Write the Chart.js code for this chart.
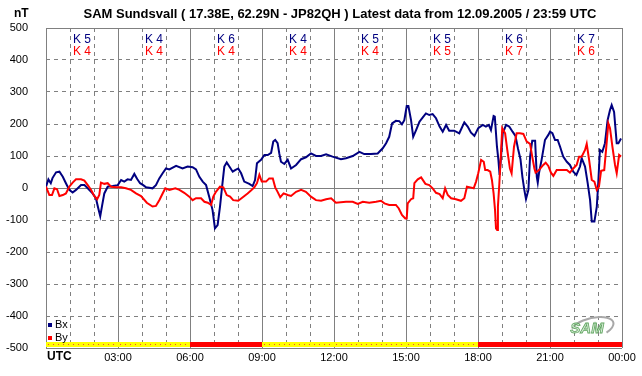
<!DOCTYPE html>
<html>
<head>
<meta charset="utf-8">
<script src="https://cdn.jsdelivr.net/npm/chart.js@4.4.0/dist/chart.umd.min.js"></script>
<style>
  body { margin: 0; background: #fff; }
</style>
</head>
<body>
<canvas id="magChart" width="642" height="376"></canvas>
<script>
// --- Data (hours UTC, nT) ---
const bxHours = [0, 0.1, 0.2, 0.27, 0.42, 0.56, 0.7, 0.83, 0.97, 1.11, 1.25, 1.46, 1.6, 1.74, 1.94, 2.08, 2.18, 2.26, 2.33, 2.43,
  2.57, 2.78, 2.99, 3.13, 3.26, 3.4, 3.54, 3.68, 3.8, 3.92, 4.05, 4.17, 4.44, 4.58, 4.72, 4.86, 5.0, 5.14, 5.42, 5.69,
  5.9, 6.11, 6.25, 6.39, 6.53, 6.67, 6.8, 6.94, 7.04, 7.15, 7.25, 7.33, 7.43, 7.53, 7.64, 7.78, 7.88, 8.01, 8.13, 8.26,
  8.47, 8.61, 8.71, 8.79, 8.96, 9.1, 9.24, 9.38, 9.47, 9.55, 9.65, 9.72, 9.79, 9.93, 10.07, 10.21, 10.42, 10.63, 10.83, 11.04,
  11.25, 11.46, 11.67, 11.94, 12.29, 12.5, 12.78, 13.06, 13.26, 13.54, 13.82, 14.03, 14.17, 14.3, 14.42, 14.58, 14.72, 14.83, 14.93, 15.03,
  15.1, 15.21, 15.3, 15.42, 15.56, 15.7, 15.83, 15.97, 16.11, 16.25, 16.4, 16.53, 16.67, 16.8, 17.01, 17.22, 17.43, 17.57, 17.71, 17.85,
  18.01, 18.2, 18.33, 18.45, 18.54, 18.65, 18.7, 18.79, 18.85, 18.9, 18.96, 19.03, 19.17, 19.3, 19.44, 19.56, 19.67, 19.77, 19.85, 19.93,
  20.0, 20.1, 20.17, 20.26, 20.38, 20.45, 20.49, 20.54, 20.65, 20.79, 20.93, 21.0, 21.1, 21.21, 21.32, 21.42, 21.55, 21.7, 21.83, 21.97,
  22.1, 22.25, 22.32, 22.46, 22.57, 22.67, 22.74, 22.85, 22.95, 23.01, 23.08, 23.18, 23.29, 23.4, 23.5, 23.57, 23.67, 23.78, 23.85, 23.96];
const bxValues = [4, 27, 15, 31, 49, 51, 35, 15, -6, -14, -6, 9, 9, -1, -17, -32, -64, -88, -58, -17,
  4, 6, 9, 25, 20, 27, 25, 44, 28, 15, 9, 2, -1, 9, 30, 46, 61, 58, 69, 61,
  67, 65, 58, 35, 20, 9, -27, -69, -126, -116, -58, -1, 67, 80, 67, 51, 56, 61, 46, 20,
  13, 6, 25, 77, 88, 103, 103, 110, 145, 150, 140, 108, 82, 75, 88, 61, 72, 90, 96, 108,
  100, 100, 105, 98, 90, 93, 100, 113, 106, 106, 108, 124, 140, 160, 202, 210, 209, 199, 212, 256,
  256, 212, 160, 181, 207, 221, 233, 228, 231, 218, 192, 176, 197, 179, 179, 171, 205, 192, 173, 163,
  187, 197, 192, 197, 181, 225, 223, 129, 88, 41, 98, 171, 197, 192, 176, 163, 122, 90, 35, -6,
  -35, -6, 98, 148, 148, 35, 17, 46, 88, 150, 166, 176, 171, 150, 150, 129, 98, 82, 72, 51,
  41, 67, 93, 67, 15, -38, -105, -105, -58, 15, 119, 113, 140, 212, 244, 259, 238, 140, 140, 155];

const byHours = [0, 0.14, 0.25, 0.35, 0.46, 0.56, 0.7, 0.83, 0.97, 1.11, 1.25, 1.46, 1.6, 1.74, 1.88, 2.01, 2.13, 2.22, 2.29, 2.43,
  2.57, 2.71, 2.92, 3.13, 3.33, 3.54, 3.75, 3.96, 4.2, 4.44, 4.58, 4.72, 4.86, 4.97, 5.14, 5.39, 5.56, 5.76, 5.97, 6.11,
  6.25, 6.46, 6.6, 6.74, 6.88, 6.97, 7.08, 7.25, 7.39, 7.53, 7.67, 7.8, 8.01, 8.2, 8.4, 8.54, 8.68, 8.79, 8.89, 8.99,
  9.17, 9.3, 9.45, 9.55, 9.65, 9.76, 9.9, 10.07, 10.21, 10.42, 10.63, 10.83, 11.04, 11.25, 11.46, 11.67, 11.88, 12.08, 12.5, 12.78,
  12.99, 13.2, 13.47, 13.75, 13.96, 14.1, 14.3, 14.58, 14.7, 14.83, 14.97, 15.03, 15.07, 15.21, 15.3, 15.35, 15.49, 15.63, 15.81, 15.97,
  16.11, 16.25, 16.4, 16.53, 16.63, 16.74, 16.88, 17.08, 17.29, 17.43, 17.54, 17.68, 17.82, 17.92, 18.01, 18.13, 18.24, 18.3, 18.4, 18.51,
  18.58, 18.65, 18.71, 18.75, 18.8, 18.83, 18.89, 18.95, 19.01, 19.13, 19.22, 19.33, 19.4, 19.5, 19.61, 19.75, 19.89, 20.03, 20.17, 20.26,
  20.35, 20.4, 20.54, 20.72, 20.82, 20.93, 21.04, 21.14, 21.28, 21.49, 21.7, 21.83, 21.97, 22.11, 22.21, 22.32, 22.46, 22.53, 22.63, 22.74,
  22.85, 22.95, 23.04, 23.13, 23.26, 23.36, 23.43, 23.5, 23.6, 23.71, 23.78, 23.88, 23.96];
const byValues = [4, -22, -22, -1, -4, -25, -22, -17, 4, 17, 27, 27, 23, 9, -6, -25, -35, -22, 17, 13,
  15, 4, 2, 2, -1, -6, -17, -25, -46, -58, -56, -38, -17, -1, -6, -1, -6, -15, -27, -38,
  -32, -32, -43, -46, -53, -27, -12, 4, 2, -22, -27, -38, -40, -29, -17, -8, 2, 15, 41, 20,
  20, 30, 30, 2, -12, -29, -17, -22, -25, -12, -6, -12, -27, -38, -40, -35, -32, -46, -43, -43,
  -50, -43, -46, -43, -40, -48, -53, -53, -64, -84, -95, -95, -48, -35, -32, 15, 27, 33, 13, 9,
  -1, -15, -19, -32, -1, -22, -32, -35, -40, -32, 4, 2, -1, 20, 46, 88, 82, 56, 56, 51,
  25, -17, -69, -126, -131, -58, 15, 98, 187, 171, 119, 61, 46, 129, 171, 171, 169, 145, 138, 98,
  61, 48, 56, 72, 79, 69, 48, 38, 56, 56, 56, 48, 61, 72, 98, 98, 119, 138, 88, 25,
  20, -6, 4, 54, 56, 140, 202, 187, 129, 72, 46, 103, 98];

// K indices per 3-hour block
const kBx = [5, 4, 6, 4, 5, 5, 6, 7];
const kBy = [4, 4, 4, 4, 4, 5, 7, 6];
// status per 3-hour block (1 = red)
const statusFlags = [0, 0, 1, 0, 0, 0, 1, 1];
const hourLabels = ['UTC', '03:00', '06:00', '09:00', '12:00', '15:00', '18:00', '21:00', '00:00'];

const titleText = 'SAM Sundsvall ( 17.38E, 62.29N - JP82QH ) Latest data from 12.09.2005 / 23:59 UTC';
const FONT = '"Liberation Sans", Arial, sans-serif';
const GRID = '#808080';

function toPoints(xs, ys) {
    return xs.map((x, i) => ({ x: x, y: ys[i] }));
}

// --- Extra drawing: title, K indices, status bar, legend, logo ---
const decorPlugin = {
    id: 'decor',
    afterDraw(chart) {
        const { ctx, chartArea } = chart;
        const xs = chart.scales.x;
        ctx.save();

        // Title + unit
        ctx.fillStyle = '#000';
        ctx.font = 'bold 13px ' + FONT;
        ctx.textBaseline = 'middle';
        ctx.textAlign = 'center';
        ctx.fillText(titleText, 340, 14);
        ctx.font = 'bold 12px ' + FONT;
        ctx.textAlign = 'left';
        ctx.fillText('nT', 14, 14);
        ctx.fillText('UTC', xs.getPixelForValue(0) + 1, 357);

        // K indices
        ctx.font = '12px ' + FONT;
        ctx.textAlign = 'center';
        kBx.forEach((k, i) => {
            const px = xs.getPixelForValue(i * 3 + 1.5);
            ctx.fillStyle = '#000080';
            ctx.fillText('K ' + k, px, 40);
            ctx.fillStyle = '#ff0000';
            ctx.fillText('K ' + kBy[i], px, 52);
        });

        // Status bar
        const top = chartArea.bottom - 6;
        statusFlags.forEach((f, i) => {
            const x0 = xs.getPixelForValue(i * 3);
            const x1 = xs.getPixelForValue(i * 3 + 3);
            ctx.fillStyle = f ? '#ff0000' : '#ffff00';
            ctx.fillRect(x0, top, x1 - x0, 5);
            if (!f) {
                ctx.fillStyle = '#ff4040';
                for (let p = x0 + 2; p < x1; p += 5) ctx.fillRect(p, top + 2, 1, 1);
            }
        });

        // Legend
        ctx.font = '11px ' + FONT;
        ctx.textAlign = 'left';
        const legendItems = [chart.data.datasets[1], chart.data.datasets[0]];
        legendItems.forEach((ds, i) => {
            const cy = 325 + i * 13;
            ctx.fillStyle = ds.borderColor;
            ctx.fillRect(48, cy - 2, 4, 4);
            ctx.fillStyle = '#000';
            ctx.fillText(ds.label, 55, cy);
        });

        // SAM logo (approximation)
        ctx.strokeStyle = '#a8a8a8';
        ctx.lineWidth = 2;
        ctx.beginPath();
        ctx.ellipse(592, 328, 22, 10, -0.25, Math.PI * 1.15, Math.PI * 2.3);
        ctx.stroke();
        ctx.font = 'italic bold 15px ' + FONT;
        ctx.textAlign = 'center';
        ctx.fillStyle = '#d6ebd6';
        ctx.strokeStyle = '#5fa55f';
        ctx.lineWidth = 0.8;
        ctx.fillText('SAM', 587, 329);
        ctx.strokeText('SAM', 587, 329);

        ctx.restore();
    }
};

// --- Chart ---
document.addEventListener('DOMContentLoaded', function () {
    new Chart(document.getElementById('magChart'), {
        type: 'line',
        data: {
            datasets: [
                { label: 'By', data: toPoints(byHours, byValues), borderColor: '#ff0000', order: 0 },
                { label: 'Bx', data: toPoints(bxHours, bxValues), borderColor: '#000080', order: 1 }
            ]
        },
        options: {
            responsive: false,
            animation: false,
            elements: {
                point: { radius: 0 },
                line: { borderWidth: 2, tension: 0 }
            },
            layout: { padding: { top: 28, right: 20, left: 0, bottom: 0 } },
            plugins: { legend: { display: false }, tooltip: { enabled: false } },
            scales: {
                x: {
                    type: 'linear',
                    min: 0,
                    max: 24,
                    afterFit: s => { s.height = 28; },
                    ticks: {
                        stepSize: 1,
                        autoSkip: false,
                        maxRotation: 0,
                        padding: 3,
                        color: '#000',
                        font: { size: 11, family: FONT },
                        callback: v => (v % 3 === 0 && v > 0) ? hourLabels[v / 3] : ''
                    },
                    grid: { color: GRID, drawTicks: false },
                    border: {
                        display: false,
                        dash: c => (c.tick && c.tick.value % 3 !== 0) ? [4, 4] : []
                    }
                },
                y: {
                    min: -500,
                    max: 500,
                    afterFit: s => { s.width = 46; },
                    ticks: {
                        stepSize: 100,
                        padding: 18,
                        color: '#000',
                        font: { size: 11, family: FONT }
                    },
                    grid: { color: GRID, drawTicks: false },
                    border: {
                        display: false,
                        dash: c => (c.tick && Math.abs(c.tick.value) % 500 !== 0) ? [4, 4] : []
                    }
                }
            }
        },
        plugins: [decorPlugin]
    });
});
</script>
</body>
</html>
